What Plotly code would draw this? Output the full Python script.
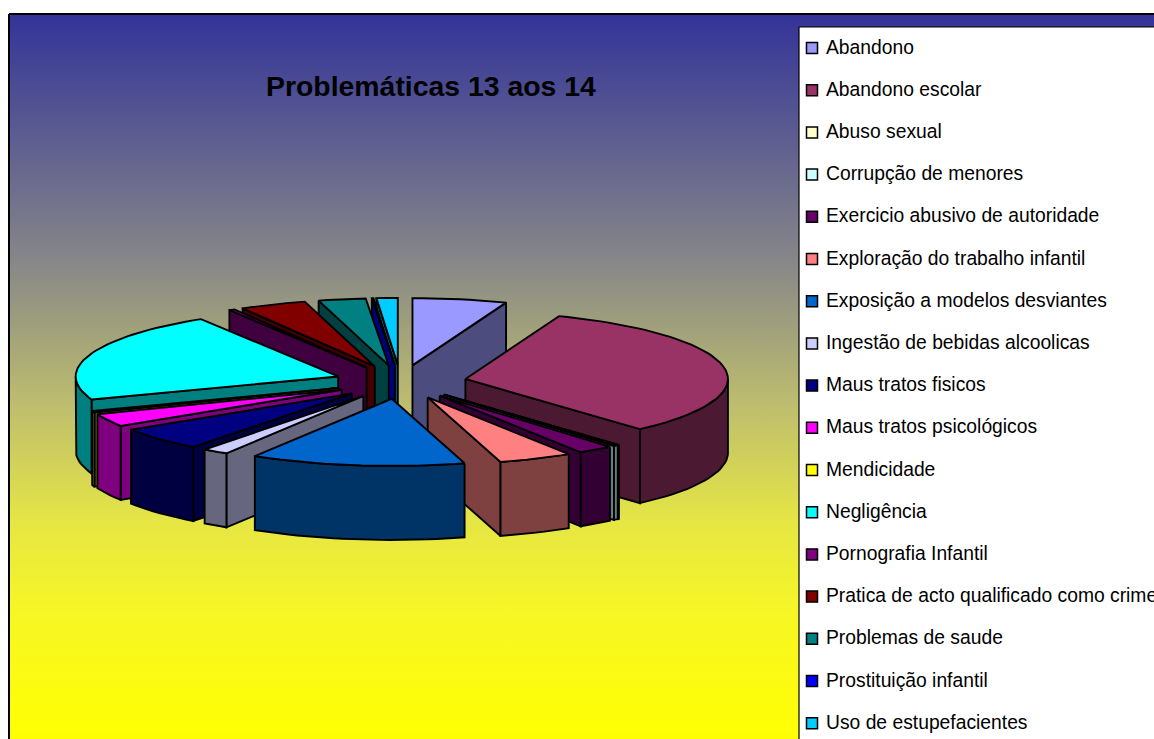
import math
import plotly.graph_objects as go

categories = ["Abandono", "Abandono escolar", "Abuso sexual", "Corrupção de menores",
              "Exercicio abusivo de autoridade", "Exploração do trabalho infantil",
              "Exposição a modelos desviantes", "Ingestão de bebidas alcoolicas",
              "Maus tratos fisicos", "Maus tratos psicológicos", "Mendicidade", "Negligência",
              "Pornografia Infantil", "Pratica de acto qualificado como crime",
              "Problemas de saude", "Prostituição infantil", "Uso de estupefacientes"]
values = [5.8, 32.6, 0.05, 0.3, 2.2, 4.55, 13.2, 1.6, 5.6, 3.1, 0.4, 21.8, 0.35, 4.1, 2.9, 0.1, 1.3]
colors = ["#9999FF", "#993366", "#FFFFCC", "#CCFFFF", "#660066", "#FF8080", "#0066CC", "#CCCCFF",
          "#000080", "#FF00FF", "#FFFF00", "#00FFFF", "#800080", "#800000", "#008080", "#0000FF", "#00CCFF"]
title = "Problemáticas 13 aos 14"

W, H = 1154, 739
CX, CY, R, K, DEPTH, EXPLODE = 400.5, 382, 262.5, 0.256, 74, 66
LW = 1.9


def half(c):
    r, g, b = int(c[1:3], 16), int(c[3:5], 16), int(c[5:7], 16)
    return f"rgb({r//2},{g//2},{b//2})"


def pt(ax, ay, ang, rad):
    a = math.radians(ang)
    return ax + rad * math.sin(a), ay - K * rad * math.cos(a)


def poly(xs, ys, color, name):
    return go.Scatter(x=xs + xs[:1], y=ys + ys[:1], mode="lines", fill="toself", fillcolor=color,
                      line=dict(color="black", width=LW), name=name, hoverinfo="skip", showlegend=False)


fig = go.Figure()

# background with vertical gradient
fig.add_trace(go.Scatter(
    x=[9, W + 20, W + 20, 9, 9], y=[14, 14, H + 6, H + 6, 14], mode="lines", fill="toself",
    line=dict(color="black", width=2), hoverinfo="skip", showlegend=False,
    fillgradient=dict(type="vertical", colorscale=[[0, "#FFFF00"], [0.178, "#F7F725"], [0.304, "#E6E644"],
                                                   [0.462, "#BEBE6E"], [0.658, "#888888"], [1, "#333399"]])))

total = sum(values)
slices = []
acc = 0.0
for name, v, col in zip(categories, values, colors):
    a1 = acc / total * 360
    acc += v
    a2 = acc / total * 360
    slices.append((name, a1, a2, col))

for name, a1, a2, col in sorted(slices, key=lambda s: -math.cos(math.radians((s[1] + s[2]) / 2))):
    mid = (a1 + a2) / 2
    ax, ay = pt(CX, CY, mid, EXPLODE)
    side = half(col)
    n = max(3, int((a2 - a1) / 2))
    arc = [a1 + (a2 - a1) * i / n for i in range(n + 1)]
    # radial cut faces
    for ang, visible in ((a1, math.sin(math.radians(a1)) < 0), (a2, math.sin(math.radians(a2)) > 0)):
        if visible:
            ex, ey = pt(ax, ay, ang, R)
            fig.add_trace(poly([ax, ex, ex, ax], [ay, ey, ey + DEPTH, ay + DEPTH], side, name))
    # outer wall (front half only)
    lo, hi = max(a1, 90), min(a2, 270)
    if lo < hi:
        m = max(3, int((hi - lo) / 2))
        wall = [pt(ax, ay, lo + (hi - lo) * i / m, R) for i in range(m + 1)]
        xs = [p[0] for p in wall] + [p[0] for p in reversed(wall)]
        ys = [p[1] for p in wall] + [p[1] + DEPTH for p in reversed(wall)]
        fig.add_trace(poly(xs, ys, side, name))
    # top
    rim = [pt(ax, ay, t, R) for t in arc]
    fig.add_trace(poly([ax] + [p[0] for p in rim], [ay] + [p[1] for p in rim], col, name))

# legend box
fig.add_trace(go.Scatter(x=[799, W + 20, W + 20, 799, 799], y=[27, 27, H + 20, H + 20, 27], mode="lines",
                         fill="toself", fillcolor="white", line=dict(color="black", width=1.2),
                         hoverinfo="skip", showlegend=False))
leg_y = [47 + 42.2 * i for i in range(len(categories))]
fig.add_trace(go.Scatter(x=[812] * len(categories), y=[y + 1 for y in leg_y], mode="markers",
                         marker=dict(symbol="square", size=11, color=colors, line=dict(color="black", width=1.5)),
                         hoverinfo="skip", showlegend=False))
annotations = [dict(x=824, y=y, text=c, xref="x", yref="y", xanchor="left", yanchor="middle", showarrow=False,
                    font=dict(family="Liberation Sans", size=19.3, color="black"))
               for c, y in zip(categories, leg_y)]
annotations.append(dict(x=431, y=85.5, text=f"<b>{title}</b>", xref="x", yref="y", xanchor="center", yanchor="middle",
                        showarrow=False, font=dict(family="Liberation Sans", size=28.4, color="black")))

fig.update_layout(
    width=W, height=H, margin=dict(l=0, r=0, t=0, b=0), paper_bgcolor="white", plot_bgcolor="white",
    showlegend=False, annotations=annotations,
    xaxis=dict(range=[0, W], visible=False, fixedrange=True),
    yaxis=dict(range=[H, 0], visible=False, fixedrange=True),
)
fig.write_html("out.html", config={"displayModeBar": False},
               post_script="document.body.style.margin='0';document.body.style.overflow='hidden';")
